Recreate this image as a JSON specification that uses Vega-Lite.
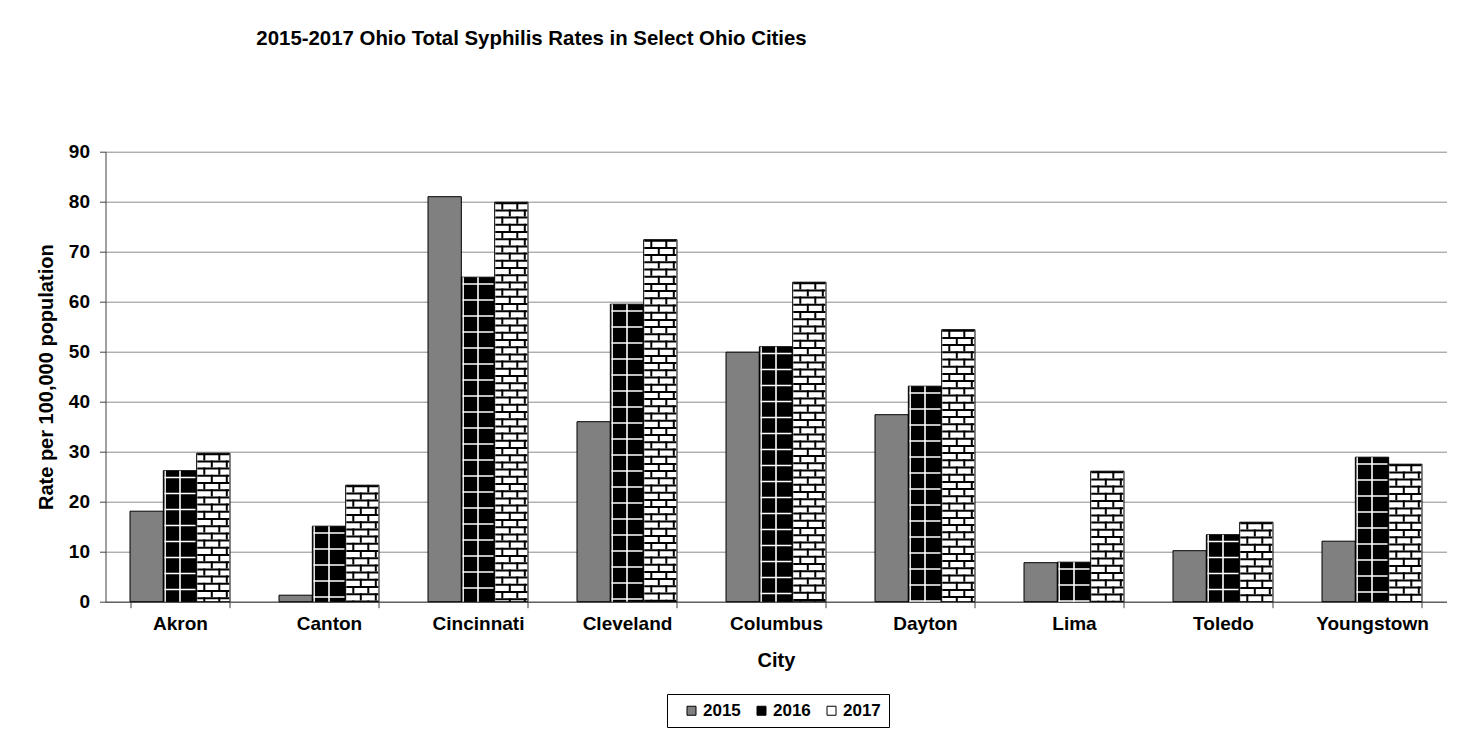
{
  "$schema": "https://vega.github.io/schema/vega-lite/v6.json",
  "autosize": {"type": "none"},
  "width": 1341,
  "height": 450,
  "padding": {"left": 105.5, "top": 151.7, "right": 27.5, "bottom": 141.3},
  "background": "white",
  "config": {"font": "Liberation Sans", "view": {"stroke": null}},
  "title": {
    "text": "2015-2017 Ohio Total Syphilis Rates in Select Ohio Cities",
    "anchor": "start",
    "dx": 220,
    "offset": 93,
    "fontSize": 20.4,
    "font": "Liberation Sans",
    "fontWeight": "bold",
    "color": "black"
  },
  "data": {
    "values": [
      {"city": "Akron", "year": "2015", "rate": 18.1},
      {"city": "Akron", "year": "2016", "rate": 26.2},
      {"city": "Akron", "year": "2017", "rate": 29.7},
      {"city": "Canton", "year": "2015", "rate": 1.3},
      {"city": "Canton", "year": "2016", "rate": 15.1},
      {"city": "Canton", "year": "2017", "rate": 23.3},
      {"city": "Cincinnati", "year": "2015", "rate": 81.0},
      {"city": "Cincinnati", "year": "2016", "rate": 64.9},
      {"city": "Cincinnati", "year": "2017", "rate": 79.9},
      {"city": "Cleveland", "year": "2015", "rate": 36.0},
      {"city": "Cleveland", "year": "2016", "rate": 59.5},
      {"city": "Cleveland", "year": "2017", "rate": 72.4},
      {"city": "Columbus", "year": "2015", "rate": 49.9},
      {"city": "Columbus", "year": "2016", "rate": 51.0},
      {"city": "Columbus", "year": "2017", "rate": 63.9},
      {"city": "Dayton", "year": "2015", "rate": 37.4},
      {"city": "Dayton", "year": "2016", "rate": 43.1},
      {"city": "Dayton", "year": "2017", "rate": 54.4},
      {"city": "Lima", "year": "2015", "rate": 7.8},
      {"city": "Lima", "year": "2016", "rate": 7.9},
      {"city": "Lima", "year": "2017", "rate": 26.1},
      {"city": "Toledo", "year": "2015", "rate": 10.2},
      {"city": "Toledo", "year": "2016", "rate": 13.4},
      {"city": "Toledo", "year": "2017", "rate": 15.9},
      {"city": "Youngstown", "year": "2015", "rate": 12.1},
      {"city": "Youngstown", "year": "2016", "rate": 28.9},
      {"city": "Youngstown", "year": "2017", "rate": 27.5}
    ]
  },
  "encoding": {
    "x": {
      "field": "city",
      "type": "nominal",
      "sort": null,
      "scale": {"paddingInner": 0.329, "paddingOuter": 0.1645},
      "axis": {
        "title": "City",
        "labelAngle": 0,
        "tickBand": "extent",
        "tickSize": 6,
        "domainColor": "#404040",
        "tickColor": "#404040",
        "labelFontSize": 19,
        "labelFontWeight": "bold",
        "labelColor": "black",
        "labelPadding": 7,
        "titleFontSize": 20,
        "titleFontWeight": "bold",
        "titleColor": "black",
        "titlePadding": 17,
        "grid": false
      }
    },
    "y": {
      "field": "rate",
      "type": "quantitative",
      "scale": {"domain": [0, 90], "nice": false},
      "axis": {
        "title": "Rate per 100,000 population",
        "values": [0, 10, 20, 30, 40, 50, 60, 70, 80, 90],
        "grid": true,
        "gridColor": "#8c8c8c",
        "gridWidth": 1,
        "domainColor": "#404040",
        "tickColor": "#404040",
        "tickSize": 6,
        "labelFontSize": 19,
        "labelFontWeight": "bold",
        "labelColor": "black",
        "labelPadding": 10,
        "titleFontSize": 20,
        "titleFontWeight": "bold",
        "titleColor": "black",
        "titlePadding": 12
      }
    }
  },
  "layer": [
    {
      "mark": {"type": "bar", "stroke": "black", "strokeWidth": 1},
      "encoding": {
        "xOffset": {"field": "year", "type": "nominal", "scale": {"paddingInner": 0, "paddingOuter": 0}},
        "color": {
          "field": "year",
          "type": "nominal",
          "scale": {"domain": ["2015", "2016", "2017"], "range": ["#808080", "#000000", "#ffffff"]},
          "legend": {
            "orient": "none",
            "legendX": 561.5,
            "legendY": 542.3,
            "direction": "horizontal",
            "title": null,
            "symbolType": "square",
            "symbolSize": 81,
            "symbolStrokeColor": "black",
            "symbolStrokeWidth": 1,
            "symbolOffset": 8,
            "labelFontSize": 17,
            "labelFontWeight": "bold",
            "labelFont": "Liberation Sans",
            "labelColor": "black",
            "labelOffset": 3,
            "columnPadding": 4,
            "strokeColor": "black",
            "fillColor": "white",
            "padding": 8
          }
        }
      }
    },
    {
      "transform": [{"filter": "datum.year == '2016'"}],
      "mark": {"type": "rule", "stroke": "white", "strokeWidth": 31, "strokeDash": [1.6, 14.4], "strokeDashOffset": 10, "xOffset": 0},
      "encoding": {"y2": {"datum": 0}}
    },
    {
      "transform": [{"filter": "datum.year == '2016'"}],
      "mark": {"type": "rule", "stroke": "white", "strokeWidth": 1.6, "xOffset": 0},
      "encoding": {"y2": {"datum": 0}}
    },
    {
      "transform": [{"filter": "datum.year == '2016'"}],
      "mark": {"type": "rule", "stroke": "white", "strokeWidth": 1.4, "xOffset": -14.8},
      "encoding": {"y2": {"datum": 0}}
    },
    {
      "transform": [{"filter": "datum.year == '2017'"}],
      "mark": {"type": "rule", "stroke": "black", "strokeWidth": 32, "strokeDash": [2, 5.2], "xOffset": 33.3},
      "encoding": {"y2": {"datum": 0}}
    },
    {
      "transform": [{"filter": "datum.year == '2017'"}],
      "mark": {"type": "rule", "stroke": "black", "strokeWidth": 2, "strokeDash": [7.2, 7.2], "xOffset": 24.3},
      "encoding": {"y2": {"datum": 0}}
    },
    {
      "transform": [{"filter": "datum.year == '2017'"}],
      "mark": {"type": "rule", "stroke": "black", "strokeWidth": 2, "strokeDash": [7.2, 7.2], "xOffset": 39.3},
      "encoding": {"y2": {"datum": 0}}
    },
    {
      "transform": [{"filter": "datum.year == '2017'"}],
      "mark": {"type": "rule", "stroke": "black", "strokeWidth": 2, "strokeDash": [7.2, 7.2], "strokeDashOffset": 7.2, "xOffset": 31.8},
      "encoding": {"y2": {"datum": 0}}
    },
    {
      "transform": [{"filter": "datum.year == '2017'"}],
      "mark": {"type": "rule", "stroke": "black", "strokeWidth": 2, "strokeDash": [7.2, 7.2], "strokeDashOffset": 7.2, "xOffset": 46.8},
      "encoding": {"y2": {"datum": 0}}
    }
  ]
}
